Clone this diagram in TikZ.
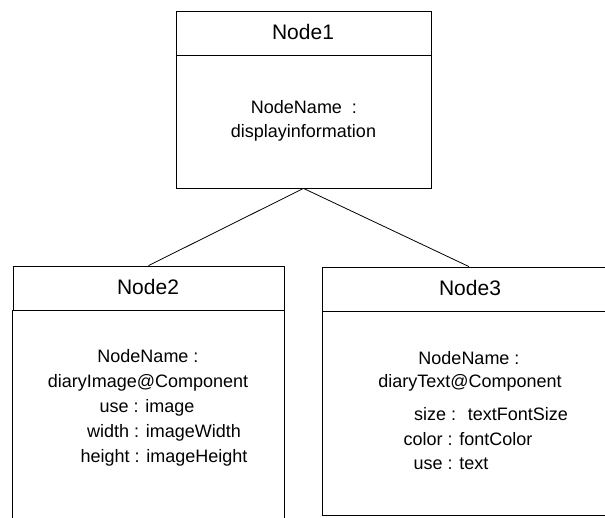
\documentclass[tikz,border=0pt]{standalone}
\usepackage{fontspec}
\setmainfont{Liberation Sans}
\usepackage{tikz}

\begin{document}
\begin{tikzpicture}[x=1pt, y=-1pt,
  box/.style={draw, line width=0.8pt, inner sep=0pt},
  title/.style={anchor=base, font=\fontsize{21}{24}\selectfont},
  entry/.style={anchor=base, font=\fontsize{18}{20}\selectfont}]
\useasboundingbox (0,0) rectangle (605,517);
% Node1
\node[box, minimum width=255pt, minimum height=44pt] (n1head) at (303.5, 33) {};
\node[box, minimum width=255pt, minimum height=133pt] (n1body) at (303.5, 121.5) {};
\node[title] (n1title) at (303, 39) {Node1};
\node[entry] (n1name) at (304, 113) {NodeName \ :};
\node[entry] (n1value) at (303.5, 137) {displayinformation};
% Node2 (open at the bottom)
\node[box, minimum width=271pt, minimum height=44pt] (n2head) at (148.5, 288) {};
\draw[line width=0.8pt] (n2head.south west) -- ++(0, 240) coordinate (n2sw);
\draw[line width=0.8pt] (n2head.south east) -- ++(0, 240) coordinate (n2se);
\node[title] (n2title) at (148, 294) {Node2};
\node[entry] (n2name) at (148, 362) {NodeName :};
\node[entry] (n2comp) at (148, 387) {diaryImage@Component};
\node[entry] (n2use) at (147, 412) {use : image};
\node[entry] (n2width) at (164, 437) {width : imageWidth};
\node[entry] (n2height) at (164, 462) {height : imageHeight};
% Node3
\node[box, minimum width=294pt, minimum height=44pt] (n3head) at (469, 289) {};
\node[box, minimum width=294pt, minimum height=204pt] (n3body) at (469, 413) {};
\node[title] (n3title) at (470, 295) {Node3};
\node[entry] (n3name) at (469, 364) {NodeName :};
\node[entry] (n3comp) at (470, 387) {diaryText@Component};
\node[entry] (n3size) at (491, 420) {size : \ textFontSize};
\node[entry] (n3color) at (468, 445) {color : fontColor};
\node[entry] (n3use) at (451, 469) {use : text};
% links
\draw[line width=0.8pt] (n1body.south) -- (n2head.north);
\draw[line width=0.8pt] (n1body.south) -- (n3head.north);
\end{tikzpicture}
\end{document}
